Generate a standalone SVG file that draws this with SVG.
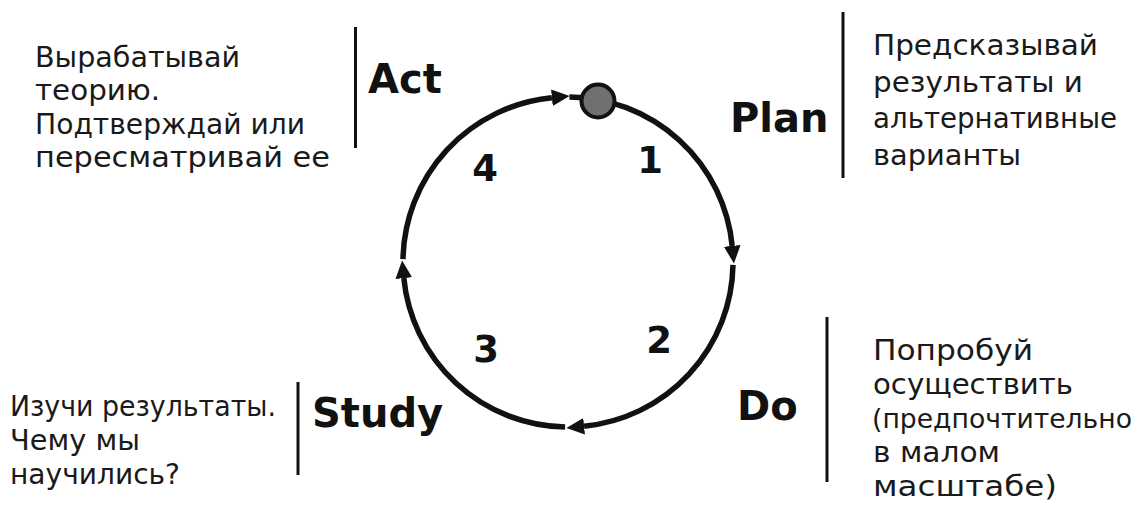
<svg xmlns="http://www.w3.org/2000/svg" width="1144" height="505" viewBox="0 0 1144 505">
  <style>
    .txt { font-family: "DejaVu Sans", "Liberation Sans", sans-serif; font-size: 29px; fill: #1a1a1a; }
    .lbl { font-family: "DejaVu Sans", "Liberation Sans", sans-serif; font-size: 40px; font-weight: bold; fill: #111; }
    .num { font-family: "DejaVu Sans", "Liberation Sans", sans-serif; font-size: 37px; font-weight: bold; fill: #111; text-anchor: middle; }
    .sep { stroke: #111; stroke-width: 3; }
    .arc { fill: none; stroke: #111; stroke-width: 5.5; }
  </style>
  <defs>
    <marker id="ah" markerUnits="userSpaceOnUse" markerWidth="20" markerHeight="20" viewBox="0 -8 18 16" refX="0" refY="0" orient="auto">
      <path d="M0,-7.5 L16,0 L0,7.5 z" fill="#111"/>
    </marker>
  </defs>
  <rect width="1144" height="505" fill="#fff"/>

  <g id="connectors">
    <path class="arc" d="M569.4 97 A165 165 0 0 1 732.2 245.9" marker-end="url(#ah)"/>
    <path class="arc" d="M733 264.9 A165 165 0 0 1 584.1 426.2" marker-end="url(#ah)"/>
    <path class="arc" d="M565.1 427 A165 165 0 0 1 403.8 278.1" marker-end="url(#ah)"/>
    <path class="arc" d="M403 259.1 A165 165 0 0 1 551.9 97.8" marker-end="url(#ah)"/>
  </g>

  <g id="start-dot">
    <circle cx="598" cy="101" r="16.5" fill="#707070" stroke="#111" stroke-width="4"/>
  </g>

  <g id="step-numbers">
    <text class="num" x="650" y="173">1</text>
    <text class="num" x="659" y="353">2</text>
    <text class="num" x="486" y="362">3</text>
    <text class="num" x="485" y="181">4</text>
  </g>

  <g id="act">
    <text class="txt" x="35" y="67" textLength="205" lengthAdjust="spacingAndGlyphs">Вырабатывай</text>
    <text class="txt" x="35" y="100" textLength="125" lengthAdjust="spacingAndGlyphs">теорию.</text>
    <text class="txt" x="35" y="134" textLength="270" lengthAdjust="spacingAndGlyphs">Подтверждай или</text>
    <text class="txt" x="35" y="167" textLength="295" lengthAdjust="spacingAndGlyphs">пересматривай ее</text>
    <line class="sep" x1="355.5" y1="27" x2="355.5" y2="148"/>
    <text class="lbl" x="368" y="93">Act</text>
  </g>

  <g id="plan">
    <text class="lbl" x="730" y="132">Plan</text>
    <line class="sep" x1="843" y1="12" x2="843" y2="178"/>
    <text class="txt" x="873" y="55" textLength="225" lengthAdjust="spacingAndGlyphs">Предсказывай</text>
    <text class="txt" x="873" y="92" textLength="210" lengthAdjust="spacingAndGlyphs">результаты и</text>
    <text class="txt" x="873" y="128" textLength="244" lengthAdjust="spacingAndGlyphs">альтернативные</text>
    <text class="txt" x="873" y="165" textLength="148" lengthAdjust="spacingAndGlyphs">варианты</text>
  </g>

  <g id="do">
    <text class="lbl" x="737" y="420">Do</text>
    <line class="sep" x1="827" y1="317" x2="827" y2="482"/>
    <text class="txt" x="873" y="360" textLength="160" lengthAdjust="spacingAndGlyphs">Попробуй</text>
    <text class="txt" x="873" y="394" textLength="200" lengthAdjust="spacingAndGlyphs">осуществить</text>
    <text class="txt" x="872" y="428" style="font-size:27px" textLength="260" lengthAdjust="spacingAndGlyphs">(предпочтительно</text>
    <text class="txt" x="873" y="462" textLength="127" lengthAdjust="spacingAndGlyphs">в малом</text>
    <text class="txt" x="873" y="496" textLength="184" lengthAdjust="spacingAndGlyphs">масштабе)</text>
  </g>

  <g id="study">
    <text class="txt" x="10" y="416" textLength="266" lengthAdjust="spacingAndGlyphs">Изучи результаты.</text>
    <text class="txt" x="10" y="450" textLength="130" lengthAdjust="spacingAndGlyphs">Чему мы</text>
    <text class="txt" x="10" y="484" textLength="170" lengthAdjust="spacingAndGlyphs">научились?</text>
    <line class="sep" x1="298" y1="382" x2="298" y2="475"/>
    <text class="lbl" x="312" y="427">Study</text>
  </g>
</svg>
